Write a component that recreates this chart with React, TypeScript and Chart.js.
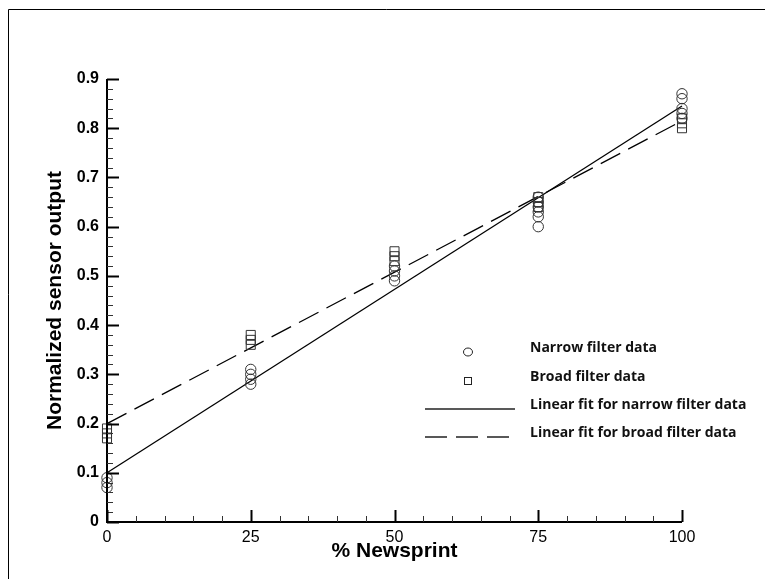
import React, { useEffect, useRef } from "react";
import { Chart, registerables } from "chart.js";

Chart.register(...registerables);

// ---- data ----
const narrowX = [0, 0, 0, 25, 25, 25, 25, 50, 50, 50, 50, 75, 75, 75, 75, 75, 75, 100, 100, 100, 100, 100];
const narrowY = [0.07, 0.08, 0.09, 0.28, 0.29, 0.30, 0.31, 0.49, 0.50, 0.51, 0.52, 0.60, 0.62, 0.63, 0.64, 0.65, 0.66, 0.82, 0.83, 0.84, 0.86, 0.87];
const broadX = [0, 0, 0, 25, 25, 25, 50, 50, 50, 75, 75, 75, 100, 100, 100];
const broadY = [0.17, 0.18, 0.19, 0.36, 0.37, 0.38, 0.53, 0.54, 0.55, 0.64, 0.65, 0.66, 0.80, 0.81, 0.82];
const fitX = [0, 100];
const narrowFitY = [0.10, 0.845];
const broadFitY = [0.20, 0.815];

const xMin = 0, xMax = 100, xMajor = 25, xMinor = 5;
const yMin = 0, yMax = 0.9, yMajor = 0.1, yMinor = 0.02;

const labels = [
  "Narrow filter data",
  "Broad filter data",
  "Linear fit for narrow filter data",
  "Linear fit for broad filter data",
];

const pts = (xs: number[], ys: number[]) => xs.map((x, i) => ({ x, y: ys[i] }));

const decorPlugin = {
  id: "decor",
  afterDraw(chart: any) {
    const ctx = chart.ctx;
    const xs = chart.scales.x;
    const ys = chart.scales.y;
    const ca = chart.chartArea;
    ctx.save();
    // outer frame (top + left visible)
    ctx.strokeStyle = "#000";
    ctx.lineWidth = 1;
    ctx.beginPath();
    ctx.moveTo(8.5, 579);
    ctx.lineTo(8.5, 9.5);
    ctx.lineTo(765, 9.5);
    ctx.stroke();

    // axis lines
    ctx.lineWidth = 2;
    ctx.beginPath();
    ctx.moveTo(ca.left, ca.top);
    ctx.lineTo(ca.left, ca.bottom);
    ctx.lineTo(ca.right, ca.bottom);
    ctx.stroke();

    // y ticks (inward)
    const nY = Math.round((yMax - yMin) / yMinor);
    for (let i = 0; i <= nY; i++) {
      const v = yMin + i * yMinor;
      const major = i % Math.round(yMajor / yMinor) === 0;
      const py = Math.round(ys.getPixelForValue(v)) + 0.5;
      ctx.lineWidth = major ? 2 : 1;
      ctx.strokeStyle = major ? "#000" : "#333";
      ctx.beginPath();
      ctx.moveTo(ca.left, py);
      ctx.lineTo(ca.left + (major ? 12 : 6), py);
      ctx.stroke();
    }
    // x ticks (inward)
    const nX = Math.round((xMax - xMin) / xMinor);
    for (let i = 0; i <= nX; i++) {
      const v = xMin + i * xMinor;
      const major = i % Math.round(xMajor / xMinor) === 0;
      const px = Math.round(xs.getPixelForValue(v)) + 0.5;
      ctx.lineWidth = major ? 2 : 1;
      ctx.strokeStyle = major ? "#000" : "#333";
      ctx.beginPath();
      ctx.moveTo(px, ca.bottom);
      ctx.lineTo(px, ca.bottom - (major ? 12 : 6));
      ctx.stroke();
    }

    // legend
    const ds = chart.data.datasets;
    const lx0 = 425, lx1 = 515, mx = 468, tx = 530;
    const rows = [352, 381, 409, 437];
    ctx.font = "bold 14px 'Open Sans', Lato, sans-serif";
    ctx.textBaseline = "middle";
    ctx.textAlign = "left";
    ctx.fillStyle = "#111";
    rows.forEach((yy, i) => {
      const d = ds[i];
      ctx.strokeStyle = "#222";
      if (i === 0) {
        ctx.lineWidth = 1;
        ctx.beginPath();
        ctx.ellipse(mx, yy, 4.5, 4, 0, 0, Math.PI * 2);
        ctx.stroke();
      } else if (i === 1) {
        ctx.lineWidth = 1;
        ctx.strokeRect(mx - 3.5, yy - 3.5, 7, 7);
      } else {
        ctx.lineWidth = 1.3;
        ctx.setLineDash(d.borderDash || []);
        ctx.beginPath();
        ctx.moveTo(lx0, yy);
        ctx.lineTo(lx1, yy);
        ctx.stroke();
        ctx.setLineDash([]);
      }
      ctx.fillText(d.label, tx, yy - 4);
    });
    ctx.restore();
  },
};

export default function App() {
  const ref = useRef<HTMLCanvasElement | null>(null);
  useEffect(() => {
    if (!ref.current) return;
    const chart = new Chart(ref.current, {
      type: "scatter",
      data: {
        datasets: [
          {
            label: labels[0],
            data: pts(narrowX, narrowY),
            pointStyle: "circle",
            pointRadius: 5.2,
            borderColor: "#333",
            backgroundColor: "rgba(0,0,0,0)",
            borderWidth: 1,
            clip: false,
          },
          {
            label: labels[1],
            data: pts(broadX, broadY),
            pointStyle: "rect",
            pointRadius: 6.4,
            borderColor: "#333",
            backgroundColor: "rgba(0,0,0,0)",
            borderWidth: 1,
            clip: false,
          },
          {
            label: labels[2],
            data: pts(fitX, narrowFitY),
            showLine: true,
            pointRadius: 0,
            borderColor: "#000",
            borderWidth: 1.3,
            clip: false,
          },
          {
            label: labels[3],
            data: pts(fitX, broadFitY),
            showLine: true,
            pointRadius: 0,
            borderColor: "#000",
            borderWidth: 1.3,
            borderDash: [22, 9],
            clip: false,
          },
        ] as any,
      },
      options: {
        responsive: false,
        animation: false,
        devicePixelRatio: 1,
        layout: { padding: { left: 43, right: 83, top: 79, bottom: 15 } },
        plugins: { legend: { display: false }, tooltip: { enabled: false } },
        scales: {
          x: {
            type: "linear",
            min: xMin,
            max: xMax,
            afterFit: (s: any) => { s.height = 42; },
            grid: { display: false, drawTicks: false },
            border: { display: false },
            ticks: {
              stepSize: xMajor,
              padding: 6,
              color: "#000",
              font: { family: "'Liberation Sans', Arial, sans-serif", size: 16 },
            },
            title: {
              display: true,
              text: "% Newsprint",
              color: "#000",
              padding: 0,
              font: { family: "'Liberation Sans', Arial, sans-serif", size: 21, weight: "bold" },
            },
          },
          y: {
            type: "linear",
            min: yMin,
            max: yMax,
            afterFit: (s: any) => { s.width = 64; },
            grid: { display: false, drawTicks: false },
            border: { display: false },
            ticks: {
              stepSize: yMajor,
              padding: 8,
              color: "#000",
              font: { family: "'Liberation Sans', Arial, sans-serif", size: 16, weight: "bold" },
              callback: (v: any) => (Math.abs(v) < 1e-9 ? "0" : Number(v).toFixed(1)),
            },
            title: {
              display: true,
              text: "Normalized sensor output",
              color: "#000",
              padding: 0,
              font: { family: "'Liberation Sans', Arial, sans-serif", size: 21, weight: "bold" },
            },
          },
        },
      },
      plugins: [decorPlugin],
    } as any);
    return () => chart.destroy();
  }, []);
  return (
    <div style={{ position: "absolute", left: 0, top: 0, width: 765, height: 579, background: "#fff" }}>
      <canvas ref={ref} width={765} height={579} style={{ display: "block" }} />
    </div>
  );
}
